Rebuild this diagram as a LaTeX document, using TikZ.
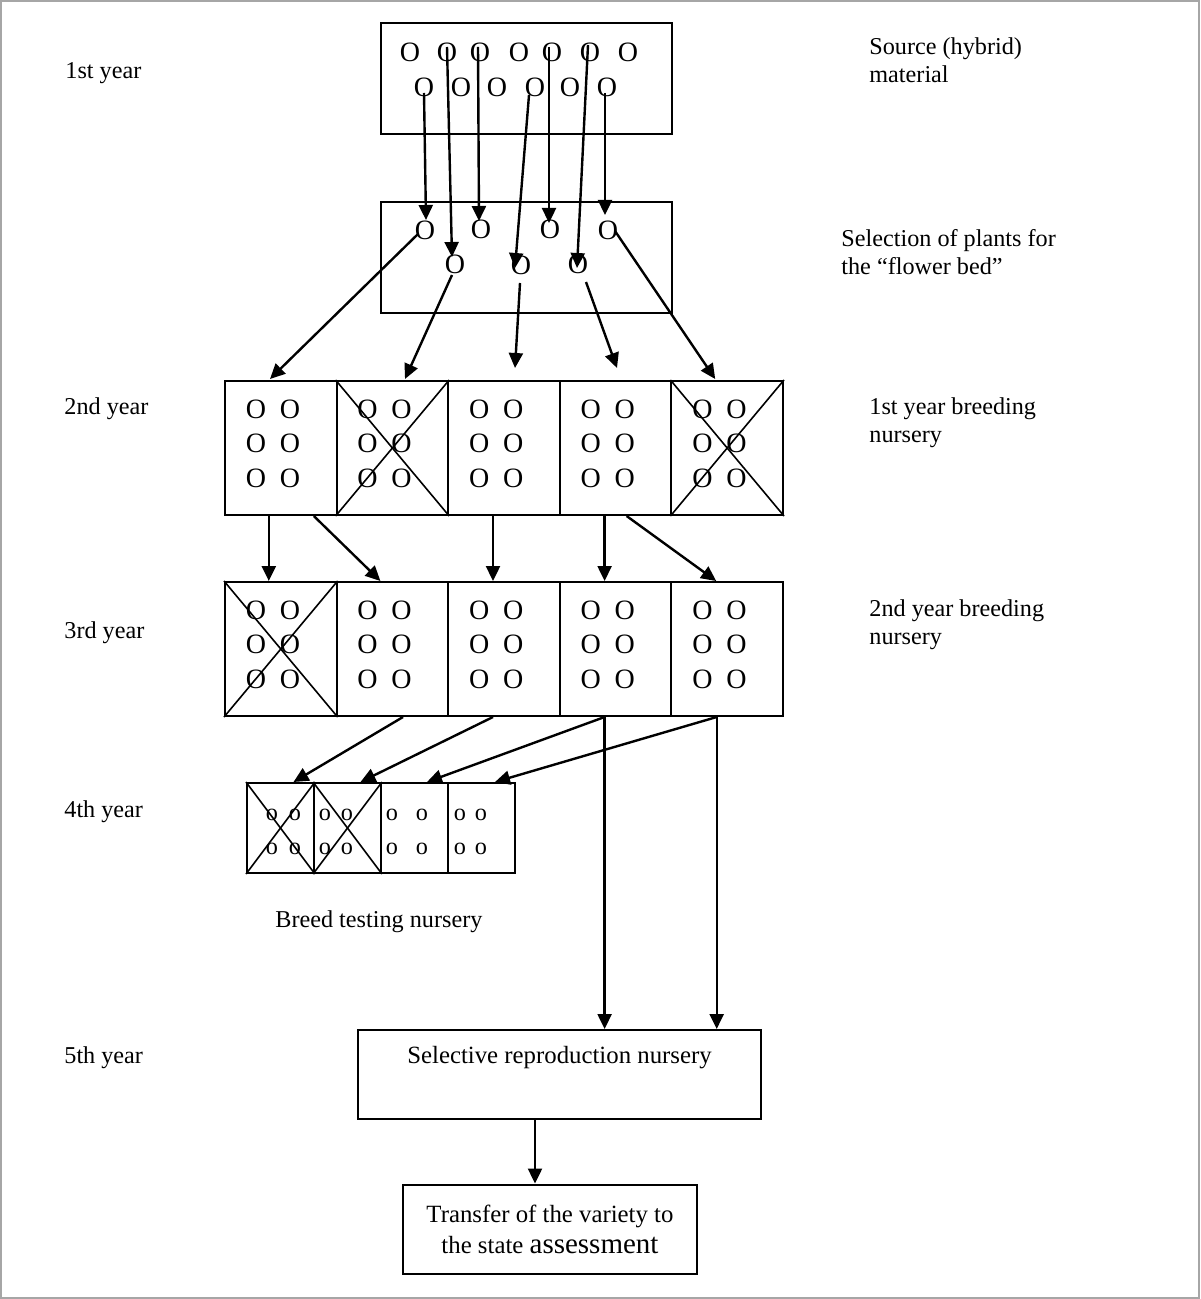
\documentclass[tikz,border=0pt]{standalone}
\usepackage{fontspec}
\setmainfont{Liberation Serif}
\usetikzlibrary{arrows.meta,calc}
\begin{document}
\begin{tikzpicture}[x=0.5pt,y=-0.5pt,
  lbl/.style={anchor=base west, inner sep=0, font=\fontsize{12.1}{14}\selectfont, align=left},
  frame/.style={draw, line width=1pt, inner sep=0},
  cell/.style={frame, minimum width=55.8pt, minimum height=67pt},
  smallcell/.style={frame, minimum width=33.5pt, minimum height=45pt},
  bigO/.style={inner sep=0, font=\fontsize{14}{14}\selectfont},
  smallo/.style={inner sep=0, font=\fontsize{12.1}{14}\selectfont},
  cross/.style={line width=0.8pt},
  arr/.style={line width=1.2pt, -{Triangle[length=7.5pt,width=7pt]}}]
\useasboundingbox (0,0) rectangle (1200,1299);
\draw[gray!70, line width=1pt] (1,1) rectangle (1199,1298);

% year labels
\node[lbl] (y1) at (65,79) {1st year};
\node[lbl] (y2) at (64,414) {2nd year};
\node[lbl] (y3) at (64,638) {3rd year};
\node[lbl] (y4) at (64,817) {4th year};
\node[lbl] (y5) at (64,1063) {5th year};

% right labels (base = baseline of last line)
\node[lbl] (l1) at (869,83) {Source (hybrid)\\material};
\node[lbl] (l2) at (841,275) {Selection of plants for\\the “flower bed”};
\node[lbl] (l3) at (869,442) {1st year breeding\\nursery};
\node[lbl] (l4) at (869,644) {2nd year breeding\\nursery};
\node[lbl] (l5) at (275,927) {Breed testing nursery};

% top box
\node[frame, minimum width=145.5pt, minimum height=55.5pt] (src) at (526.5,78.5) {};
\foreach \n/\x in {1/410,2/447,3/480,4/519,5/552,6/590,7/628}
  \node[bigO] (t1\n) at (\x,52) {O};
\foreach \n/\x in {1/424,2/461,3/497,4/535,5/570,6/607}
  \node[bigO] (t2\n) at (\x,87) {O};

% selection box
\node[frame, minimum width=145.5pt, minimum height=55.5pt] (flw) at (526.5,257.5) {};
\node[bigO] (s11) at (425,230) {O};
\node[bigO] (s12) at (481,229) {O};
\node[bigO] (s13) at (550,229) {O};
\node[bigO] (s14) at (608,230) {O};
\node[bigO] (s21) at (455,264) {O};
\node[bigO] (s22) at (521,265) {O};
\node[bigO] (s23) at (578,264) {O};

% arrows source -> selection
\draw[arr] ($(t21.center)+(0,6)$) -- ($(s11.center)+(1,-10)$);
\draw[arr] ($(t12.center)+(0,-5)$) -- ($(s21.center)+(-3,-7)$);
\draw[arr] ($(t13.center)+(-2,-5)$) -- ($(s12.center)+(-2,-8)$);
\draw[arr] ($(t24.center)+(-6,8)$) -- ($(s22.center)+(-6,3)$);
\draw[arr] ($(t15.center)+(-3,-5)$) -- ($(s13.center)+(-1,-6)$);
\draw[arr] ($(t16.center)+(-2,-7)$) -- ($(s23.center)+(-1,4)$);
\draw[arr] ($(t26.center)+(-2,6)$) -- ($(s14.center)+(-3,-15)$);

% 2nd and 3rd year rows
\foreach \i/\cx in {1/280.8,2/392.4,3/504,4/615.6,5/727.2}{
  \node[cell] (c2\i) at (\cx,448) {};
  \node[cell] (c3\i) at (\cx,649) {};
  \foreach \r/\ry in {1/409,2/443,3/478}{
    \node[bigO] (p2\i\r a) at (\cx-24.8,\ry) {O};
    \node[bigO] (p2\i\r b) at (\cx+9.2,\ry) {O};
    \node[bigO] (p3\i\r a) at (\cx-24.8,\ry+201) {O};
    \node[bigO] (p3\i\r b) at (\cx+9.2,\ry+201) {O};
  }
}
\foreach \c in {c22,c25,c31}{
  \draw[cross] (\c.north west) -- (\c.south east);
  \draw[cross] (\c.north east) -- (\c.south west);
}

% arrows selection -> 2nd year
\draw[arr] ($(s11.center)+(-7,4)$) -- ($(c21.north)+(-10.8,-1)$);
\draw[arr] ($(s21.center)+(-3,11)$) -- ($(c22.north)+(12.6,-1)$);
\draw[arr] ($(s22.center)+(-1,18)$) -- ($(c23.north)+(11,-12)$);
\draw[arr] ($(s23.center)+(8,18)$) -- ($(c24.north)+(1.4,-12)$);
\draw[arr] ($(s14.center)+(7,1)$) -- ($(c25.north)+(-12,-1)$);

% arrows 2nd -> 3rd
\draw[arr] ($(c21.south)+(-12,0)$) -- ($(c31.north)+(-12,0)$);
\draw[arr] ($(c21.south)+(33,0)$) -- ($(c32.north)+(-12,0)$);
\draw[arr] ($(c23.south)+(-11,0)$) -- ($(c33.north)+(-11,0)$);
\draw[arr] ($(c24.south)+(-11,0)$) -- ($(c34.north)+(-11,0)$);
\draw[arr] ($(c24.south)+(11,0)$) -- ($(c35.north)+(-11,0)$);

% 4th year row
\foreach \i/\cx in {1/280.5,2/347.5,3/414.5,4/481.5}
  \node[smallcell] (c4\i) at (\cx,828) {};
\foreach \c in {c41,c42}{
  \draw[cross] (\c.north west) -- (\c.south east);
  \draw[cross] (\c.north east) -- (\c.south west);
}
\foreach \r/\ry in {1/815,2/849}{
  \foreach \k/\x in {1/272,2/295,3/325,4/347,5/392,6/422,7/460,8/481}
    \node[smallo] (q\r\k) at (\x,\ry) {o};
}

% 5th year box and final box
\node[frame, minimum width=201.5pt, text height=16.5pt, text depth=28pt, anchor=north,
      font=\fontsize{12.4}{14}\selectfont] (sel) at (559.5,1029) {Selective reproduction nursery};
\node[frame, minimum width=147pt, minimum height=44.5pt, align=center,
      font=\fontsize{12.4}{15.5}\selectfont] (fin) at (550,1229)
      {Transfer of the variety to\\the state {\fontsize{14.5}{15.5}\selectfont assessment}};

% split points on the bottom of the 3rd-year row
\coordinate (v1) at ($(c34.south)+(-11,0)$);
\coordinate (v2) at ($(c35.south)+(-10.5,0)$);

% arrows 3rd -> 4th
\draw[arr] ($(c32.south)+(10.6,0)$) -- ($(c41.north)+(13,0)$);
\draw[arr] ($(c33.south)+(-11,0)$) -- ($(c42.north)+(13,0)$);
\draw[arr] (v1) -- ($(c43.north)+(12.5,0)$);
\draw[arr] (v2) -- ($(c44.north)+(13.5,0)$);

% arrows 3rd -> 5th
\draw[arr] (v1) -- (v1 |- sel.north);
\draw[arr] (v2) -- (v2 |- sel.north);

% arrow 5th -> final
\coordinate (v3) at ($(sel.south)+(-24.5,0)$);
\draw[arr] (v3) -- (v3 |- fin.north);
\end{tikzpicture}
\end{document}
